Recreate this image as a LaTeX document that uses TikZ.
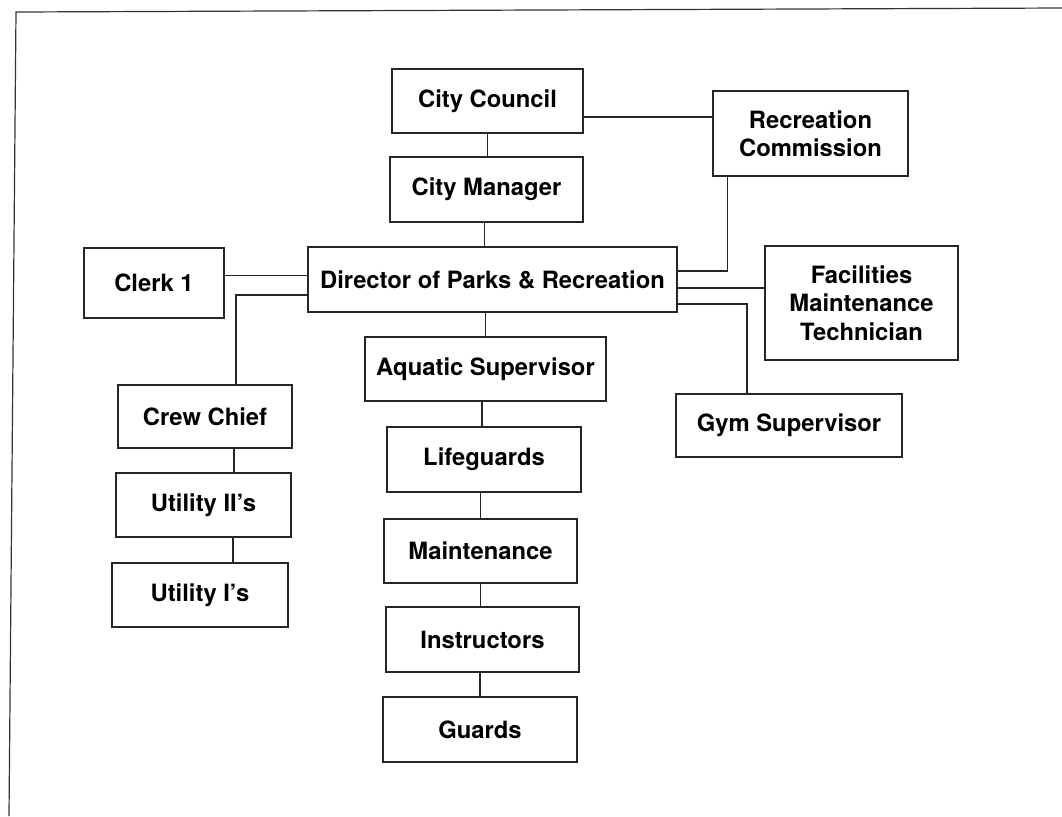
\documentclass[tikz,border=0pt]{standalone}
\usepackage{fontspec}
\setmainfont{TeX Gyre Heros}
\tikzstyle{post} = [draw=black!85, line width=0.6pt, inner sep=0pt, align=center, font=\bfseries\fontsize{11.9}{14.2}\selectfont]
\tikzstyle{link} = [draw=black!85, line width=0.6pt]
\begin{document}
\begin{tikzpicture}[x=0.5pt,y=-0.5pt]
                \useasboundingbox (0,0) rectangle (1062,816);
                \draw[line width=0.6pt, black!80] (9,816) -- (16,12) -- (1062,8);

                \node[post, minimum width=95.5pt, minimum height=32pt] (council) at (487.5,101) {City Council};
                \node[post, minimum width=96.5pt, minimum height=32.5pt] (manager) at (486.5,189.5) {City Manager};
                \node[post, minimum width=97.5pt, minimum height=42.5pt] (commission) at (810.5,133.5) {Recreation\\Commission};
                \node[post, minimum width=184.5pt, minimum height=32.5pt] (director) at (492.5,279.5) {Director of Parks \& Recreation};
                \node[post, minimum width=70pt, minimum height=35pt] (clerk) at (154,283) {Clerk 1};
                \node[post, minimum width=96.5pt, minimum height=57pt] (facilities) at (861.5,303) {Facilities\\Maintenance\\Technician};
                \node[post, minimum width=120.5pt, minimum height=32pt] (aquatic) at (485.5,369) {Aquatic Supervisor};
                \node[post, minimum width=87pt, minimum height=31.5pt] (crew) at (205,416.5) {Crew Chief};
                \node[post, minimum width=113pt, minimum height=31.5pt] (gym) at (789,425.5) {Gym Supervisor};
                \node[post, minimum width=97pt, minimum height=32.5pt] (lifeguards) at (484,459.5) {Lifeguards};
                \node[post, minimum width=87.5pt, minimum height=32pt] (utiltwo) at (203.5,505) {Utility II's};
                \node[post, minimum width=96.5pt, minimum height=32pt] (maint) at (480.5,551) {Maintenance};
                \node[post, minimum width=88pt, minimum height=32pt] (utilone) at (200,595) {Utility I's};
                \node[post, minimum width=96.5pt, minimum height=32.5pt] (instr) at (482.5,639.5) {Instructors};
                \node[post, minimum width=97pt, minimum height=32.5pt] (guards) at (480,729.5) {Guards};

                \draw[link] ([yshift=-8pt]council.east) -- ([yshift=-8pt]council.east -| commission.west);
                \draw[link] (council.south) -- (council.south |- manager.north);
                \draw[link] ([xshift=-1pt]manager.south) -- ([xshift=-1pt]manager.south |- director.north);
                \draw[link] ([xshift=7.5pt]commission.south west) |- ([yshift=4.25pt]director.east);
                \draw[link] ([yshift=-4.25pt]director.east) -- ([yshift=-4.25pt]director.east -| facilities.west);
                \draw[link] ([yshift=-12.25pt]director.east) -| ([xshift=-21pt]gym.north);
                \draw[link] ([yshift=2pt]director.west) -- ([yshift=2pt]director.west -| clerk.east);
                \draw[link] ([yshift=-7.75pt]director.west) -| ([xshift=15.5pt]crew.north);
                \draw[link] ([xshift=14.5pt]crew.south) -- ([xshift=14.5pt]crew.south |- utiltwo.north);
                \draw[link] ([xshift=14.75pt]utiltwo.south) -- ([xshift=14.75pt]utiltwo.south |- utilone.north);
                \draw[link] (aquatic.north) -- (aquatic.north |- director.south);
                \draw[link] ([xshift=-1pt]lifeguards.north) -- ([xshift=-1pt]lifeguards.north |- aquatic.south);
                \draw[link] (maint.north) -- (maint.north |- lifeguards.south);
                \draw[link] ([xshift=-1pt]instr.north) -- ([xshift=-1pt]instr.north |- maint.south);
                \draw[link] (guards.north) -- (guards.north |- instr.south);
            \end{tikzpicture}
\end{document}
